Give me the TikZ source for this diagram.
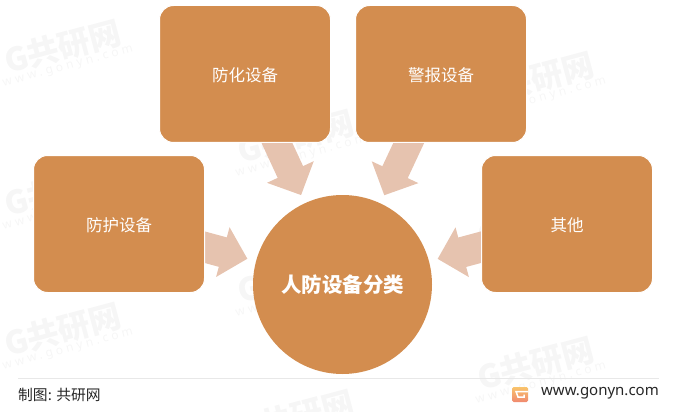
\documentclass[tikz,border=0pt]{standalone}
\usepackage{fontspec}
\setmainfont{Noto Sans CJK SC}
\newfontfamily\latinfont{Noto Sans}
\newfontfamily\markfont[LetterSpace=28]{Noto Sans}
\usetikzlibrary{arrows.meta,backgrounds}
\definecolor{boxorange}{HTML}{D38D4F}
\definecolor{arrowpink}{HTML}{E6C3AF}
\definecolor{markgray}{HTML}{F6F6F6}
\definecolor{rulegray}{HTML}{E8E8E8}
\definecolor{logotop}{HTML}{F9C46C}
\definecolor{logobottom}{HTML}{F0896F}
\tikzset{
	kindbox/.style={draw=white, line width=1pt, fill=boxorange, rounded corners=14pt, minimum width=171pt, minimum height=137pt, text=white, text height=16pt, text depth=1.5pt, font=\fontsize{16.5}{18}\selectfont},
	hubnode/.style={circle, fill=boxorange, minimum size=179pt, inner sep=0pt, outer sep=0pt, text=white, font=\fontsize{20.5}{24}\selectfont\bfseries},
	flowarrow/.style={draw=arrowpink, line width=#1, shorten >=9pt, -{Triangle[length=25.5pt,width=50pt]}},
	watermark/.style={rotate=15, text=markgray, align=center, inner sep=0pt},
}
\begin{document}
\begin{tikzpicture}[x=1pt,y=-1pt]
	\useasboundingbox (0,0) rectangle (673,412);
	\node[kindbox] (fanghua) at (245,74) {防化设备};
	\node[kindbox] (jingbao) at (441,74) {警报设备};
	\node[kindbox] (fanghu) at (119,224) {防护设备};
	\node[kindbox] (qita) at (567,224) {其他};
	\node[hubnode] (hub) at (342.5,284.5) {人防设备分类};
	\begin{scope}[on background layer]
		\foreach \gx/\gy [count=\i] in {10/57,10/200,10/340,243/147,243/287,243/427,483/89,483/232,483/374}
			\node[watermark] (mark\i) at (\gx+54,\gy-5) {{\fontsize{32}{32}\selectfont\bfseries G共研网}\\[-1pt]{\markfont\fontsize{12}{14}\selectfont www.gonyn.com}};
		\draw[flowarrow=28pt] (fanghua.center) -- (hub);
		\draw[flowarrow=28pt] (jingbao.center) -- (hub);
		\draw[flowarrow=30.5pt] (fanghu.center) -- (hub);
		\draw[flowarrow=30.5pt] (qita.center) -- (hub);
	\end{scope}
	\coordinate (ruleleft) at (18,378);
	\coordinate (ruleright) at (659,378);
	\draw[rulegray, line width=1pt] (ruleleft) -- (ruleright);
	\node[anchor=west, inner sep=0pt, text=black!85, font=\fontsize{14.8}{16}\selectfont] (source) at (18,395) {制图: 共研网};
	\node[anchor=east, inner sep=0pt, text=black!85, font=\latinfont\fontsize{15}{17}\selectfont] (site) at (659,393) {www.gonyn.com};
	\shade[top color=logotop, bottom color=logobottom, rounded corners=1.5pt] (512,387) rectangle (528,402);
	\draw[white, line width=1.5pt] (528,391.5) -- (516,391.5) -- (518,397) -- (524,397) -- (524,394.5);
\end{tikzpicture}
\end{document}
